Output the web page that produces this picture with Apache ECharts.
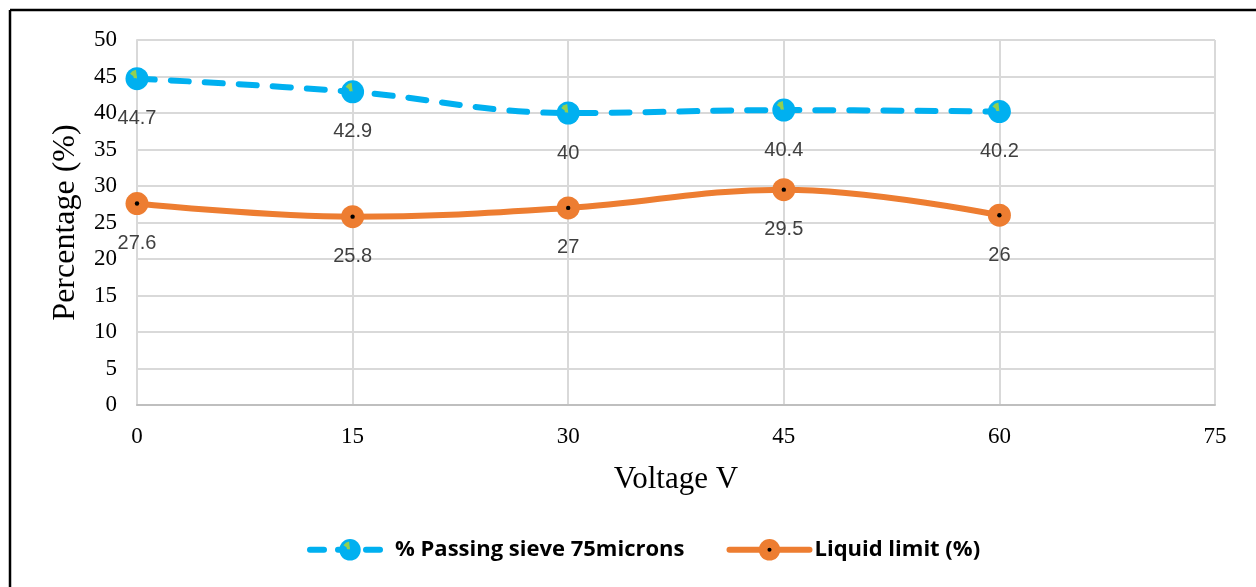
<!DOCTYPE html>
<html>
<head>
<meta charset="utf-8">
<script src="https://cdn.jsdelivr.net/npm/echarts@6/dist/echarts.min.js"></script>
<style>
html,body{margin:0;padding:0;background:#fff;}
#chart{width:1256px;height:587px;}
</style>
</head>
<body>
<div id="chart"></div>
<script>
const voltages = [0, 15, 30, 45, 60];
const passingSieve = [44.7, 42.9, 40, 40.4, 40.2];
const liquidLimit = [27.6, 25.8, 27, 29.5, 26];
const xTicks = [0, 15, 30, 45, 60, 75];
const yTicks = [0, 5, 10, 15, 20, 25, 30, 35, 40, 45, 50];
const seriesNames = ['% Passing sieve 75microns', 'Liquid limit (%)'];

function svgUri(svg){ return 'image://data:image/svg+xml;charset=utf-8,' + encodeURIComponent(svg); }
const blueMarker = svgUri('<svg xmlns="http://www.w3.org/2000/svg" width="24" height="24" viewBox="0 0 24 24"><circle cx="12" cy="12" r="11.5" fill="#00b0f0"/><path d="M12 12 L5 7 A9 9 0 0 1 11 3 Z" fill="#92d050"/><circle cx="10" cy="10" r="1.6" fill="#92d050"/></svg>');
const orangeMarker = svgUri('<svg xmlns="http://www.w3.org/2000/svg" width="24" height="24" viewBox="0 0 24 24"><circle cx="12" cy="12" r="11.5" fill="#ed7d31"/><circle cx="12" cy="12" r="2.2" fill="#000"/></svg>');

const chart = echarts.init(document.getElementById('chart'));
const labelStyle = {show: true, position: 'bottom', distance: 18, color: '#404040', fontFamily: 'Liberation Sans', fontSize: 20};
chart.setOption({
  animation: false,
  backgroundColor: '#fff',
  grid: {left: 137, right: 41, top: 40, bottom: 182},
  legend: {
    bottom: 21, left: 302, itemWidth: 80, itemHeight: 28, itemGap: 42,
    data: [
      {name: seriesNames[0], lineStyle: {width: 6, type: [14, 14], cap: 'round'}},
      {name: seriesNames[1], lineStyle: {width: 6, cap: 'round'}}
    ],
    textStyle: {fontFamily: 'Open Sans', fontWeight: 'bold', fontSize: 22, color: '#000'}
  },
  xAxis: {
    type: 'value', min: xTicks[0], max: xTicks[xTicks.length-1], interval: 15,
    name: 'Voltage V', nameLocation: 'middle', nameGap: 59,
    nameTextStyle: {fontFamily: 'Liberation Serif', fontSize: 31, color: '#000'},
    axisLine: {show: true, lineStyle: {color: '#bfbfbf', width: 2}},
    axisTick: {show: false},
    axisLabel: {margin: 20, fontFamily: 'Liberation Serif', fontSize: 23, color: '#000'},
    splitLine: {show: true, lineStyle: {color: '#d9d9d9', width: 2}}
  },
  yAxis: {
    type: 'value', min: yTicks[0], max: yTicks[yTicks.length-1], interval: 5,
    name: 'Percentage (%)', nameLocation: 'middle', nameGap: 55,
    nameTextStyle: {fontFamily: 'Liberation Serif', fontSize: 32, color: '#000'},
    axisLine: {show: true, lineStyle: {color: '#d9d9d9', width: 2}},
    axisTick: {show: false},
    axisLabel: {margin: 20, fontFamily: 'Liberation Serif', fontSize: 23, color: '#000'},
    splitLine: {show: true, lineStyle: {color: '#d9d9d9', width: 2}}
  },
  graphic: [
    {type: 'line', shape: {x1: 10, y1: 10, x2: 1256, y2: 10}, style: {stroke: '#000', lineWidth: 2.5}, z: 100},
    {type: 'line', shape: {x1: 10, y1: 10, x2: 10, y2: 587}, style: {stroke: '#000', lineWidth: 2.5}, z: 100}
  ],
  series: [
    {
      name: seriesNames[0], type: 'line', smooth: 0.4,
      data: voltages.map((v, i) => [v, passingSieve[i]]),
      symbol: blueMarker, symbolSize: 24,
      itemStyle: {color: '#00b0f0'},
      lineStyle: {color: '#00b0f0', width: 6, type: [18, 16], cap: 'round'},
      label: labelStyle
    },
    {
      name: seriesNames[1], type: 'line', smooth: 0.4,
      data: voltages.map((v, i) => [v, liquidLimit[i]]),
      symbol: orangeMarker, symbolSize: 24,
      itemStyle: {color: '#ed7d31'},
      lineStyle: {color: '#ed7d31', width: 6, cap: 'round'},
      label: labelStyle
    }
  ]
});
</script>
</body>
</html>
